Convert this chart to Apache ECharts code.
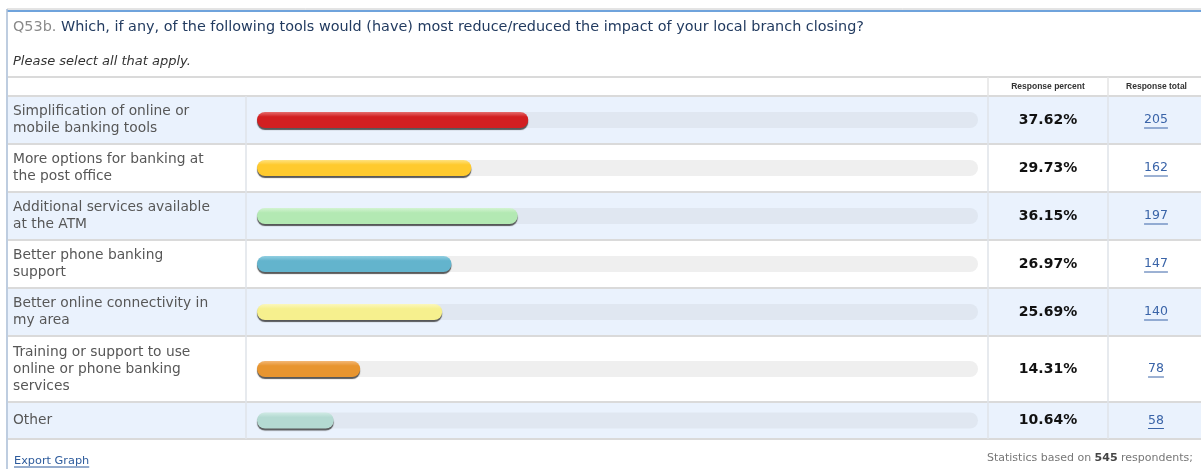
<!DOCTYPE html>
<html><head><meta charset="utf-8">
<script src="https://cdn.jsdelivr.net/npm/echarts@6/dist/echarts.min.js"></script>
<style>html,body{margin:0;padding:0;background:#fff}#c{width:1201px;height:469px}</style>
</head><body><div id="c"></div>
<script>
// ---------- data ----------
const categories = [
  'Simplification of online or\nmobile banking tools',
  'More options for banking at\nthe post office',
  'Additional services available\nat the ATM',
  'Better phone banking\nsupport',
  'Better online connectivity in\nmy area',
  'Training or support to use\nonline or phone banking\nservices',
  'Other'
];
const percentValues = [37.62, 29.73, 36.15, 26.97, 25.69, 14.31, 10.64];
const responseTotals = [205, 162, 197, 147, 140, 78, 58];
const respondents = 545;
const questionCode = 'Q53b.';
const questionText = ' Which, if any, of the following tools would (have) most reduce/reduced the impact of your local branch closing?';
const instruction = 'Please select all that apply.';
const headerPercent = 'Response percent';
const headerTotal = 'Response total';
const exportLabel = 'Export Graph';

// ---------- styles / layout ----------
const barColors = [
  ['#e56d6d', '#d21f21'],
  ['#ffe27e', '#ffca2e'],
  ['#d3f3d1', '#b3e9b3'],
  ['#92cfe2', '#63b4cd'],
  ['#fbf7bd', '#f6f08e'],
  ['#f3b775', '#e8952f'],
  ['#d0ebe5', '#b4dad2']
];
const rowHeights = [48, 48, 48, 48, 48, 66, 37];
const headerTop = 77, headerBottom = 96;
const colLabelX = 13, col1 = 246, col2 = 988, col3 = 1108, W = 1201;
const trackLeft = 257, trackRight = 978;
const FONT = '"DejaVu Sans", Verdana, sans-serif';

const rowTops = [];
let acc = headerBottom;
rowHeights.forEach(h => { rowTops.push(acc); acc += h; });
const tableBottom = acc;

function textWidth(t, font) {
  const ctx = document.createElement('canvas').getContext('2d');
  ctx.font = font;
  return ctx.measureText(t).width;
}

const chart = echarts.init(document.getElementById('c'), null, {renderer: 'canvas'});

const grids = [], xAxes = [], yAxes = [], series = [];
categories.forEach((cat, i) => {
  grids.push({left: trackLeft, width: trackRight - trackLeft, top: rowTops[i], height: rowHeights[i], containLabel: false});
  xAxes.push({type: 'value', gridIndex: i, min: 0, max: 100, show: false});
  yAxes.push({
    type: 'category', gridIndex: i, data: [cat],
    axisLine: {show: false}, axisTick: {show: false}, splitLine: {show: false},
    axisLabel: {align: 'left', margin: trackLeft - colLabelX, color: '#575757', fontFamily: FONT, fontSize: 13.8, lineHeight: 17}
  });
  const [hi, main] = barColors[i];
  series.push({
    type: 'bar', xAxisIndex: i, yAxisIndex: i, data: [percentValues[i]],
    barWidth: 16, silent: true, animation: false,
    showBackground: true,
    backgroundStyle: {color: i % 2 === 0 ? '#e0e7f1' : '#efefef', borderRadius: 9},
    itemStyle: {
      borderRadius: 8,
      color: new echarts.graphic.LinearGradient(0, 0, 0, 1, [
        {offset: 0, color: hi}, {offset: 0.3, color: main}, {offset: 1, color: main}
      ]),
      shadowColor: 'rgba(60,60,60,0.85)', shadowOffsetY: 2, shadowBlur: 1
    }
  });
});

const graphics = [];
// row backgrounds
rowTops.forEach((t, i) => {
  if (i % 2 === 0) graphics.push({type: 'rect', z: -10, shape: {x: 8, y: t, width: W - 8, height: rowHeights[i]}, style: {fill: '#eaf2fd'}});
});
// horizontal lines
const hLines = [headerTop, headerBottom, ...rowTops.slice(1), tableBottom];
hLines.forEach(y => graphics.push({type: 'line', z: -5, shape: {x1: 8, y1: y, x2: W, y2: y}, style: {stroke: '#dadada', lineWidth: 2}}));
// vertical lines
[col1, col2, col3].forEach(x => graphics.push({type: 'line', z: -5, shape: {x1: x, y1: headerBottom, x2: x, y2: tableBottom}, style: {stroke: '#dfe3e8', lineWidth: 1.5}}));
[col2, col3].forEach(x => graphics.push({type: 'line', z: -5, shape: {x1: x, y1: headerTop, x2: x, y2: headerBottom}, style: {stroke: '#e4e4e4', lineWidth: 1.5}}));
// frame
graphics.push({type: 'line', shape: {x1: 7, y1: 9, x2: W, y2: 9}, style: {stroke: '#c8c8c8', lineWidth: 1}});
graphics.push({type: 'line', shape: {x1: 7, y1: 11, x2: W, y2: 11}, style: {stroke: '#6fa3dc', lineWidth: 2}});
graphics.push({type: 'line', shape: {x1: 7, y1: 9, x2: 7, y2: 469}, style: {stroke: '#a9bdd6', lineWidth: 1.5}});
// title
graphics.push({type: 'text', x: 13, y: 27, style: {
  text: '{c|' + questionCode + '}{q|' + questionText + '}', verticalAlign: 'middle',
  rich: {c: {fill: '#8a8a8a', font: '14.4px ' + FONT}, q: {fill: '#223b60', font: '14.4px ' + FONT}}
}});
graphics.push({type: 'text', x: 13, y: 62, style: {text: instruction, verticalAlign: 'middle', fill: '#333', font: 'italic 13px ' + FONT}});
// headers
const hdrFont = 'bold 8.5px "Liberation Sans", Arial, sans-serif';
graphics.push({type: 'text', x: (col2 + col3) / 2, y: (headerTop + headerBottom) / 2 + 0.5, style: {text: headerPercent, align: 'center', verticalAlign: 'middle', fill: '#333', font: hdrFont}});
graphics.push({type: 'text', x: (col3 + W) / 2 + 2, y: (headerTop + headerBottom) / 2 + 0.5, style: {text: headerTotal, align: 'center', verticalAlign: 'middle', fill: '#333', font: hdrFont}});
// value columns
const pctFont = 'bold 14px ' + FONT;
const totFont = '12.5px ' + FONT;
percentValues.forEach((p, i) => {
  const cy = rowTops[i] + rowHeights[i] / 2;
  graphics.push({type: 'text', x: (col2 + col3) / 2, y: cy, style: {text: p.toFixed(2) + '%', align: 'center', verticalAlign: 'middle', fill: '#111', font: pctFont}});
  const tx = 1156;
  const t = String(responseTotals[i]);
  const w = textWidth(t, totFont);
  graphics.push({type: 'text', x: tx, y: cy, style: {text: t, align: 'center', verticalAlign: 'middle', fill: '#3a64a8', font: totFont}});
  graphics.push({type: 'line', shape: {x1: tx - w / 2, y1: cy + 8, x2: tx + w / 2, y2: cy + 8}, style: {stroke: '#3a64a8', lineWidth: 1}});
});
// footer
const expFont = '11.3px ' + FONT;
graphics.push({type: 'text', x: 14, y: 461, style: {text: exportLabel, verticalAlign: 'middle', fill: '#2d5b9c', font: expFont}});
graphics.push({type: 'line', shape: {x1: 14, y1: 467, x2: 14 + textWidth(exportLabel, expFont), y2: 467}, style: {stroke: '#2d5b9c', lineWidth: 1}});
graphics.push({type: 'text', x: 1193, y: 458, style: {
  text: '{a|Statistics based on }{b|' + respondents + '}{a| respondents;}', align: 'right', verticalAlign: 'middle',
  rich: {a: {fill: '#777', font: '11px ' + FONT}, b: {fill: '#444', font: 'bold 11px ' + FONT}}
}});

chart.setOption({
  animation: false,
  grid: grids, xAxis: xAxes, yAxis: yAxes, series: series,
  graphic: graphics
});
</script></body></html>
